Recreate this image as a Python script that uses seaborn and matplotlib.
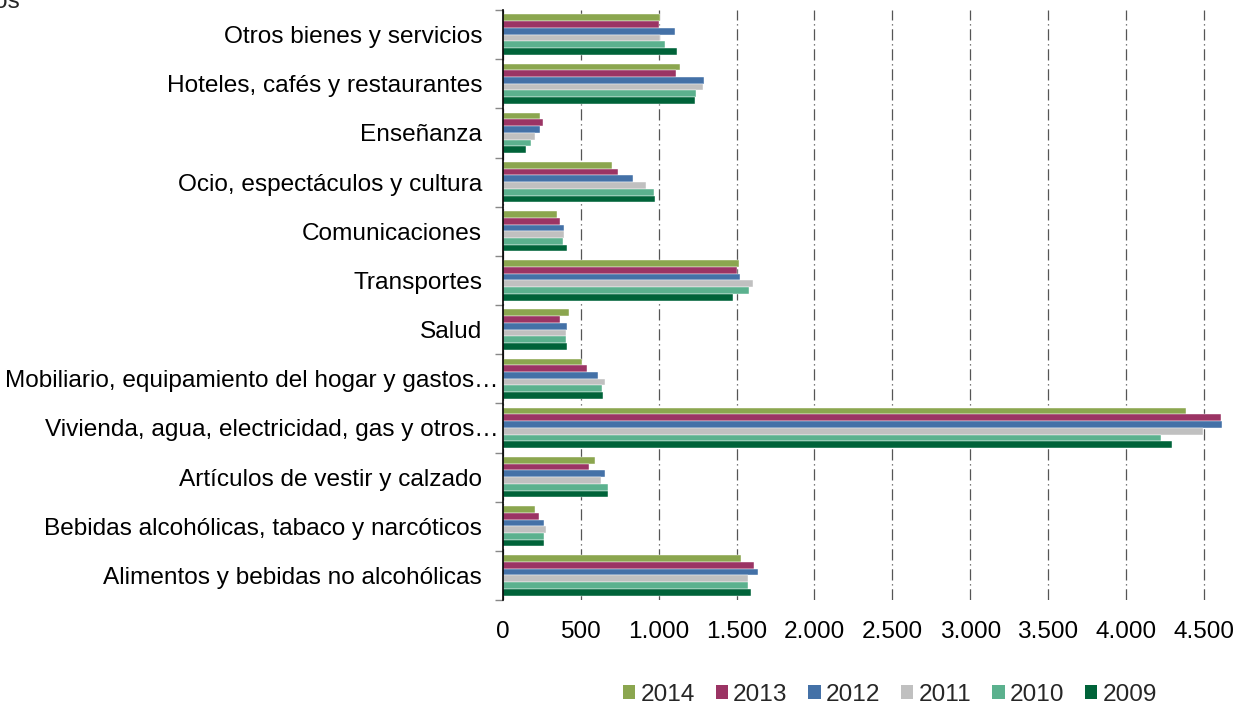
import matplotlib
matplotlib.use("Agg")
import matplotlib.pyplot as plt
import matplotlib.transforms as mtransforms
import seaborn as sns
import pandas as pd
from matplotlib.ticker import FuncFormatter, FixedLocator
from matplotlib.patches import Patch

categories = [
    "Otros bienes y servicios",
    "Hoteles, cafés y restaurantes",
    "Enseñanza",
    "Ocio, espectáculos y cultura",
    "Comunicaciones",
    "Transportes",
    "Salud",
    "Mobiliario, equipamiento del hogar y gastos…",
    "Vivienda, agua, electricidad, gas y otros…",
    "Artículos de vestir y calzado",
    "Bebidas alcohólicas, tabaco y narcóticos",
    "Alimentos y bebidas no alcohólicas",
]
years = ["2014", "2013", "2012", "2011", "2010", "2009"]

v2014 = [1009, 1139, 235, 697, 349, 1513, 426, 506, 4387, 588, 207, 1530]
v2013 = [1004, 1111, 256, 737, 363, 1502, 368, 537, 4613, 554, 229, 1614]
v2012 = [1105, 1291, 235, 833, 391, 1522, 408, 613, 4618, 652, 265, 1640]
v2011 = [1010, 1285, 203, 919, 389, 1603, 406, 658, 4494, 628, 274, 1575]
v2010 = [1041, 1240, 178, 972, 385, 1581, 402, 635, 4224, 673, 265, 1571]
v2009 = [1118, 1231, 150, 979, 413, 1479, 410, 645, 4297, 676, 261, 1594]

colors = ["#8BA64F", "#9B3464", "#4471A7", "#C0C0C0", "#5BB18E", "#006339"]

series = [v2014, v2013, v2012, v2011, v2010, v2009]
rows = []
for y, vals in zip(years, series):
    for c, v in zip(categories, vals):
        rows.append({"Categoría": c, "Año": y, "Valor": v})
df = pd.DataFrame(rows)

sns.set_theme(style="white")
plt.rcParams["font.family"] = ["Liberation Sans", "DejaVu Sans"]
FS = 17.6

fig = plt.figure(figsize=(12.42, 7.04), dpi=100)
ax = fig.add_axes([503 / 1242, 1 - 600 / 704, (1224 - 503) / 1242, 590 / 704])

sns.barplot(data=df, y="Categoría", x="Valor", hue="Año", order=categories,
            hue_order=years, palette=colors, orient="h", width=0.82,
            saturation=1, ax=ax, legend=False, errorbar=None,
            edgecolor="white", linewidth=0.3)

ax.set_xlim(0, 4630)
ax.set_ylim(len(categories) - 0.5, -0.5)

# x axis
ax.set_xticks(range(0, 4501, 500))
ax.xaxis.set_major_formatter(FuncFormatter(lambda v, p: f"{int(v):,}".replace(",", ".")))
ax.tick_params(axis="x", length=0, pad=15, labelsize=FS, labelcolor="black")
ax.xaxis.grid(True, color="#555555", linestyle=(0, (9, 3, 1, 3)), linewidth=0.9)
ax.set_axisbelow(True)

# y axis: labels at centers, ticks at boundaries
ax.yaxis.set_major_locator(FixedLocator([i - 0.5 for i in range(len(categories) + 1)]))
ax.yaxis.set_minor_locator(FixedLocator(list(range(len(categories)))))
ax.set_yticklabels([""] * (len(categories) + 1))
ax.set_yticklabels(categories, minor=True)
ax.tick_params(axis="y", which="major", length=6, width=1, color="#888888", left=True)
ax.tick_params(axis="y", which="minor", length=0, pad=15, labelsize=FS, labelcolor="black")

# truncated long labels overflow toward the axis, as in the original
shift = mtransforms.ScaledTranslation(16 / 100, 0, fig.dpi_scale_trans)
for lab in ax.get_yticklabels(minor=True):
    if lab.get_text().endswith("…"):
        lab.set_transform(lab.get_transform() + shift)

ax.set_xlabel("")
ax.set_ylabel("")
for s in ["top", "right", "bottom"]:
    ax.spines[s].set_visible(False)
ax.spines["left"].set_color("black")
ax.spines["left"].set_linewidth(1.2)

# cut-off unit label at top-left
fig.text(20 / 1242, 1 - 8 / 704, "Euros", ha="right", va="baseline", fontsize=FS)

handles = [Patch(facecolor=c, edgecolor="none", label=y) for c, y in zip(colors, years)]
fig.legend(handles=handles, loc="center", bbox_to_anchor=(890 / 1242, 1 - 695 / 704),
           ncol=6, frameon=False, fontsize=FS, handlelength=0.5, handleheight=0.5,
           handletextpad=0.22, columnspacing=0.85, borderaxespad=0, borderpad=0)

fig.savefig("out.png", dpi=100)
